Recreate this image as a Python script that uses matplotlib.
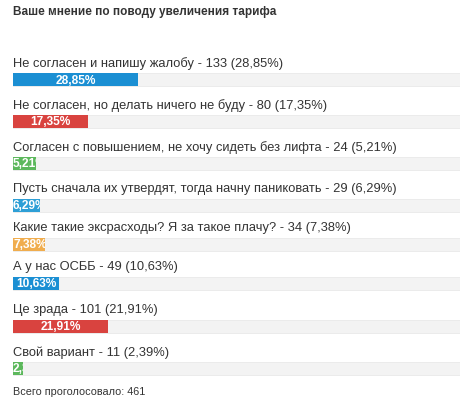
import matplotlib
matplotlib.use("Agg")
import matplotlib.pyplot as plt

labels = ["Не согласен и напишу жалобу", "Не согласен, но делать ничего не буду",
          "Согласен с повышением, не хочу сидеть без лифта", "Пусть сначала их утвердят, тогда начну паниковать",
          "Какие такие эксрасходы? Я за такое плачу?", "А у нас ОСББ", "Це зрада", "Свой вариант"]
votes = [133, 80, 24, 29, 34, 49, 101, 11]
pcts = [28.85, 17.35, 5.21, 6.29, 7.38, 10.63, 21.91, 2.39]
colors = ["#1b8fd3", "#d9433f", "#5cb85c", "#2e9fd6", "#f0ad4e", "#1b8fd3", "#d9433f", "#5cb85c"]
total = 461
bar_y = [80.5, 122.5, 164.5, 206.5, 245.5, 284.5, 327.5, 369.5]

plt.rcParams['font.family'] = ['Liberation Sans', 'DejaVu Sans']
fig = plt.figure(figsize=(4.71, 4.14), dpi=100)
ax = fig.add_axes([13/471, 0, 447/471, 1])
ax.set_xlim(0, 447/4.33)
ax.set_ylim(414, 0)
ax.axis('off')

fig.text(13/471, 1-12/414, "Ваше мнение по поводу увеличения тарифа", fontsize=8.5,
         fontweight='bold', color='#333333', va='center', ha='left')
for lab, v, p, c, y in zip(labels, votes, pcts, colors, bar_y):
    ax.text(0, y-17, f"{lab} - {v} ({p:.2f}%)".replace('.', ','), fontsize=9.3,
            color='#333333', va='center', ha='left')
    ax.barh(y, ax.get_xlim()[1], left=0, height=13, color='#f3f3f3', edgecolor='#e6e6e6', lw=0.5)
    b = ax.barh(y, p, left=0, height=13, color=c)[0]
    t = ax.text(p/2, y, f"{p:.2f}%".replace('.', ','), fontsize=8.6, fontweight='bold',
                color='white', va='center', ha='center')
    if p < 9:
        t.set_ha('left'); t.set_x(0)
    t.set_clip_on(True)
    t.set_clip_path(b)
ax.text(0, 392, f"Всего проголосовало: {total}", fontsize=7.8, color='#333333', va='center')
fig.savefig("out.png", dpi=100)
